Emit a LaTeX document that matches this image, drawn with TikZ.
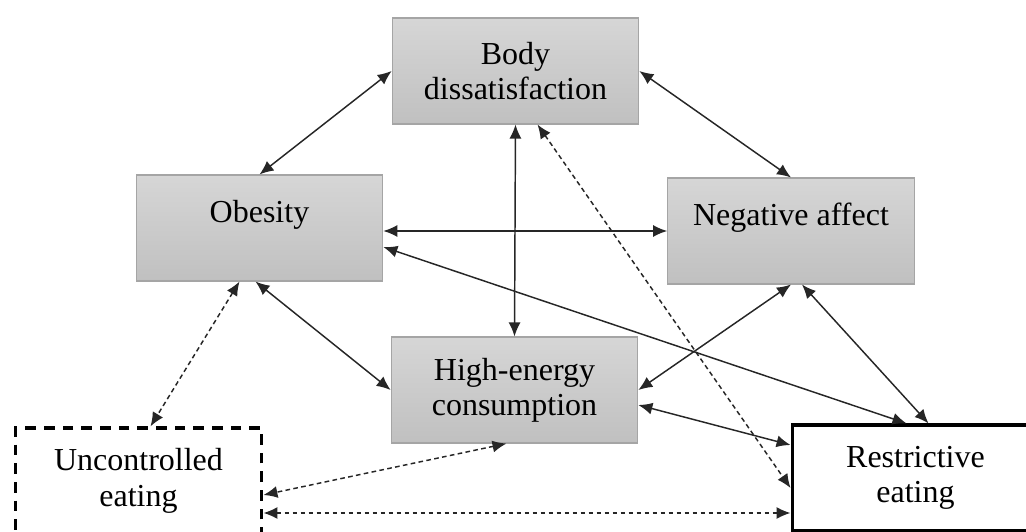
\documentclass[tikz,border=0pt]{standalone}
\usepackage{fontspec}
\setmainfont{Liberation Serif}
\usetikzlibrary{arrows.meta,calc}
\definecolor{boxtop}{RGB}{214,214,214}
\definecolor{boxbottom}{RGB}{192,192,192}
\definecolor{boxline}{RGB}{165,165,165}
\tikzset{
  factor/.style={
    rectangle, minimum width=185pt, minimum height=79.5pt,
    align=center, font=\fontsize{24}{26.5}\selectfont
  },
  grey factor/.style={
    factor, draw=boxline, line width=0.8pt,
    top color=boxtop, bottom color=boxbottom
  },
  eating dashed/.style={
    factor, draw=black, line width=2.4pt, dash pattern=on 8pt off 6pt
  },
  eating solid/.style={
    factor, draw=black, line width=2.4pt
  },
  link/.style={
    {Latex[length=10.5pt,width=9pt]}-{Latex[length=10.5pt,width=9pt]},
    line width=1.1pt, draw=black!85
  },
  dashed link/.style={
    link, dash pattern=on 3.5pt off 2.5pt
  }
}
\begin{document}
\begin{tikzpicture}[x=0.75pt,y=-0.75pt]

\useasboundingbox (0,0) rectangle (1026,532);

% the four shaded factors
\node [grey factor] (bd) at (515.5,71)  {Body\\dissatisfaction};
\node [grey factor] (ob) at (259.5,228) {Obesity\\[-2pt]\phantom{x}};
\node [grey factor] (na) at (791,231)   {Negative affect\\[-2pt]\phantom{x}};
\node [grey factor] (he) at (514.5,390) {High-energy\\consumption};

% the two eating behaviours
\node [eating dashed] (uc) at (138.5,481) {Uncontrolled\\eating};
\node [eating solid]  (re) at (915.5,478) {Restrictive\\eating};

% solid links
\draw [link] (bd.west) -- (ob.north);
\draw [link] (bd.east) -- (na.north);
\draw [link] ($(ob.east)+(0,3)$) -- (na.west);
\draw [link] (bd.south) -- (he.north);
\draw [link] ($(ob.south)+(-4,0)$) -- (he.west);
\draw [link] (na.south) -- (he.east);
\draw [link] ($(na.south)+(11,0)$) -- ($(re.north)+(13,0)$);
\draw [link] ($(ob.east)+(0,19)$) -- ($(re.north)+(-9,0)$);
\draw [link] ($(he.east)+(0,15)$) -- ($(re.west)+(0,-33)$);

% dashed links
\draw [dashed link] ($(ob.south)+(-20,0)$) -- ($(uc.north)+(12,0)$);
\draw [dashed link] ($(bd.south)+(22,0)$) -- ($(re.west)+(0,10)$);
\draw [dashed link] ($(he.south)+(-8,0)$) -- ($(uc.east)+(0,14)$);
\draw [dashed link] ($(uc.east)+(0,32)$) -- ($(re.west)+(0,35)$);

\end{tikzpicture}
\end{document}
